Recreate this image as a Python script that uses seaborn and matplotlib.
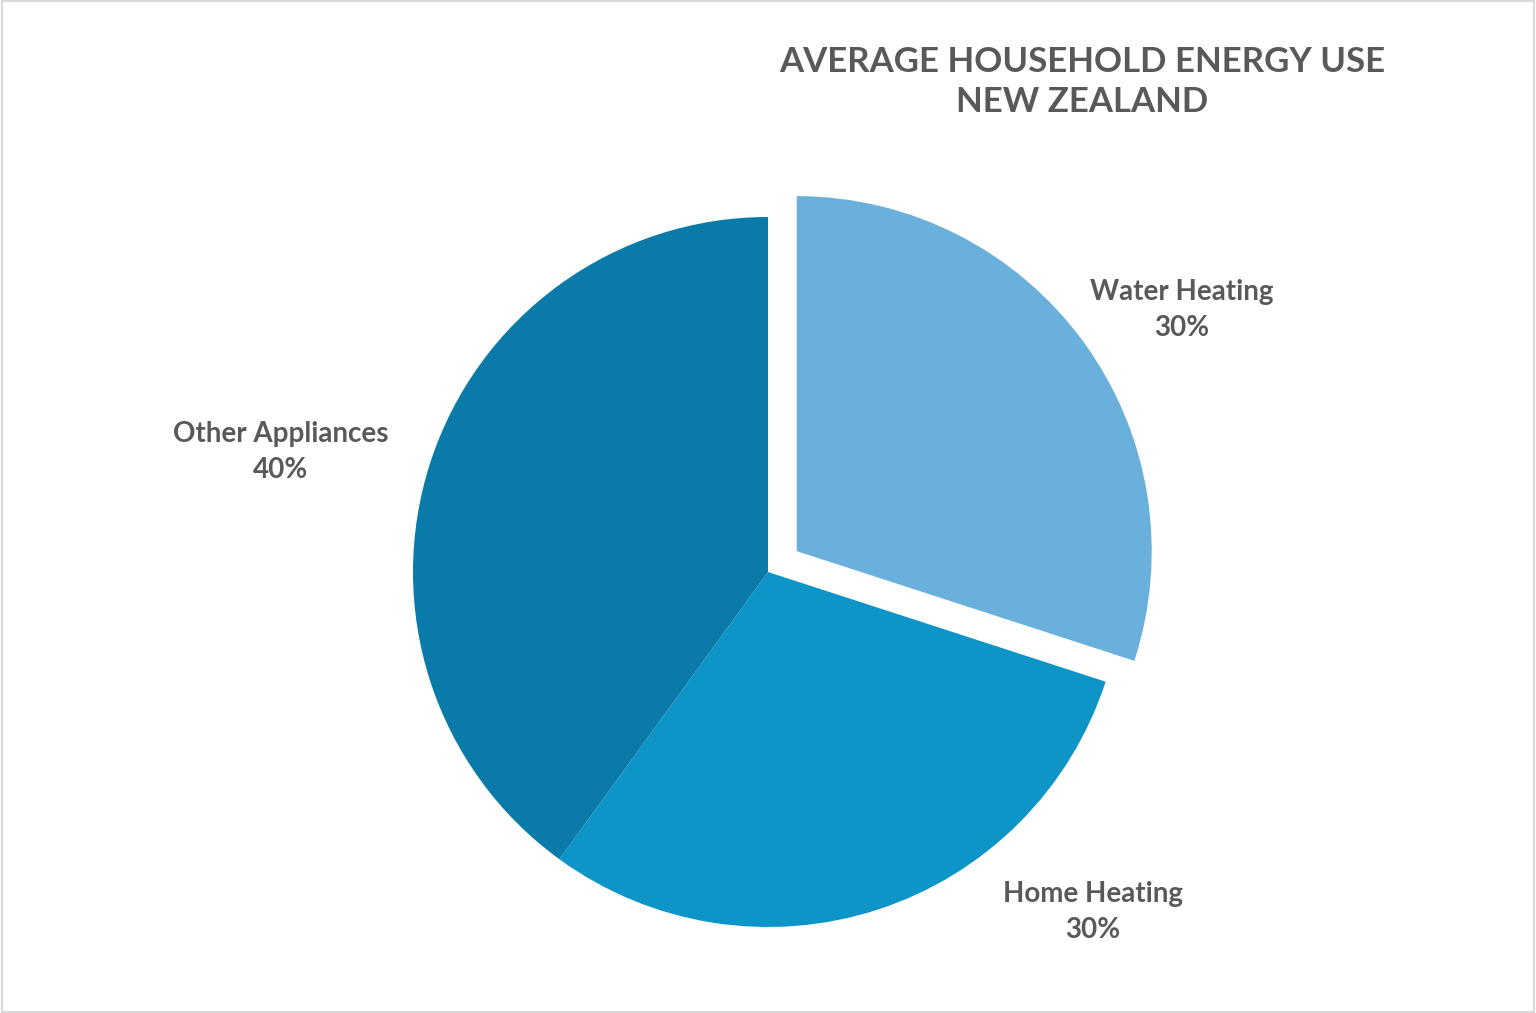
import matplotlib
matplotlib.use("Agg")
import matplotlib.pyplot as plt
import seaborn as sns

categories = ["Water Heating", "Home Heating", "Other Appliances"]
shares = [30, 30, 40]
colors = ["#6AB0DC", "#0E95C8", "#0A7AA8"]
explode = [0.1, 0, 0]

sns.set_style("white")
plt.rcParams["font.family"] = ["Lato", "DejaVu Sans"]

fig = plt.figure(figsize=(15.36, 10.13), dpi=100)
ax = fig.add_axes([0, 0, 1, 1])
r = 355.0
ax.pie(shares, colors=colors, explode=explode, startangle=90, counterclock=False,
       radius=1.0, wedgeprops=dict(linewidth=0))
ax.set_aspect("auto")
ax.set_xlim(-768 / r, (1536 - 768) / r)
ax.set_ylim(-(1013 - 572) / r, 572 / r)
ax.axis("off")

label_pos = [(1.166, 0.738), (0.915, -0.958), (-1.372, 0.338)]
for name, val, (x, y) in zip(categories, shares, label_pos):
    ax.text(x, y, f"{name}\n{val}%", ha="center", va="center", fontsize=20,
            fontweight="bold", color="#595959", linespacing=1.45)

fig.text(1082 / 1536, 1 - 82 / 1013, "AVERAGE HOUSEHOLD ENERGY USE\nNEW ZEALAND",
         ha="center", va="center", fontsize=25, fontweight="bold", color="#595959",
         linespacing=1.3)

fig.patches.append(plt.Rectangle((0.001, 0.001), 0.998, 0.998, transform=fig.transFigure,
                                 fill=False, edgecolor="#D9D9D9", linewidth=1.5))
fig.savefig("out.png", dpi=100, facecolor="white")
